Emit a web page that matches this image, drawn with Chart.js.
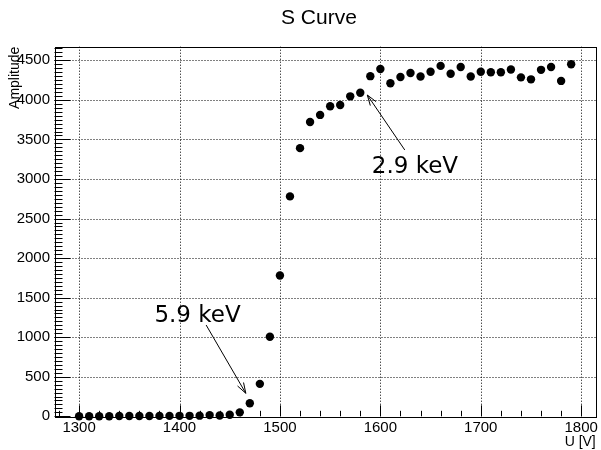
<!DOCTYPE html>
<html>
<head>
<meta charset="utf-8">
<title>S Curve</title>
<script src="https://cdn.jsdelivr.net/npm/chart.js@4/dist/chart.umd.min.js"></script>
<style>
  body { margin: 0; background: #fff; }
</style>
</head>
<body>
<canvas id="sCurve" width="601" height="450"></canvas>
<script>
// U [V]
const voltages = [1300, 1310, 1320, 1330, 1340, 1350, 1360, 1370, 1380, 1390,
                  1400, 1410, 1420, 1430, 1440, 1450, 1460, 1470, 1480, 1490,
                  1500, 1510, 1520, 1530, 1540, 1550, 1560, 1570, 1580, 1590,
                  1600, 1610, 1620, 1630, 1640, 1650, 1660, 1670, 1680, 1690,
                  1700, 1710, 1720, 1730, 1740, 1750, 1760, 1770, 1780, 1790];
// Amplitude
const amplitudes = [0, 0, 0, 0, 3, 3, 4, 4, 5, 5,
                    6, 6, 8, 15, 10, 20, 50, 165, 410, 1005,
                    1780, 2780, 3390, 3720, 3810, 3920, 3935, 4045, 4090, 4300,
                    4390, 4210, 4290, 4340, 4295, 4355, 4430, 4330, 4415, 4295,
                    4355, 4350, 4350, 4385, 4285, 4260, 4380, 4415, 4240, 4450];

const xTicks = [1300, 1400, 1500, 1600, 1700, 1800];
const yTicks = [0, 500, 1000, 1500, 2000, 2500, 3000, 3500, 4000, 4500];
const xRange = [1275.5, 1814.5];
const yRange = [0, 4672.5];

// arrows + labels, in data coordinates
const notes = [
    { text: '5.9 keV', at: [1375, 1196], from: [1426.5, 1154], to: [1466, 291] },
    { text: '2.9 keV', at: [1591.5, 3080], from: [1624.3, 3367], to: [1587, 4062] }
];

const tickFont = { family: '"Liberation Sans", Arial, sans-serif', size: 15 };

function drawArrow(ctx, x1, y1, x2, y2) {
    const ang = Math.atan2(y2 - y1, x2 - x1);
    const head = 11, spread = 0.32;
    ctx.beginPath();
    ctx.moveTo(x1, y1);
    ctx.lineTo(x2, y2);
    ctx.moveTo(x2 - head * Math.cos(ang - spread), y2 - head * Math.sin(ang - spread));
    ctx.lineTo(x2, y2);
    ctx.lineTo(x2 - head * Math.cos(ang + spread), y2 - head * Math.sin(ang + spread));
    ctx.stroke();
}

// ROOT style frame: dotted grid, inward ticks, titles, arrows
const rootFrame = {
    id: 'rootFrame',
    beforeDatasetsDraw(chart) {
        const { ctx, chartArea: a, scales: { x, y } } = chart;
        ctx.save();
        ctx.strokeStyle = '#000';
        ctx.lineWidth = 1;

        ctx.setLineDash([1, 2]);
        ctx.beginPath();
        xTicks.forEach(v => {
            const px = Math.round(x.getPixelForValue(v)) + 0.5;
            ctx.moveTo(px, a.top);
            ctx.lineTo(px, a.bottom);
        });
        yTicks.forEach(v => {
            if (v === 0) return;
            const py = Math.round(y.getPixelForValue(v)) + 0.5;
            ctx.moveTo(a.left, py);
            ctx.lineTo(a.right, py);
        });
        ctx.stroke();
        ctx.setLineDash([]);

        ctx.beginPath();
        for (let v = 1280; v <= xRange[1]; v += 20) {
            const px = Math.round(x.getPixelForValue(v)) + 0.5;
            const len = v % 100 === 0 ? 11 : 5.5;
            ctx.moveTo(px, a.bottom);
            ctx.lineTo(px, a.bottom - len);
        }
        for (let v = 0; v <= yRange[1]; v += 50) {
            const py = Math.round(y.getPixelForValue(v)) + 0.5;
            const len = v % 500 === 0 ? 16 : 8;
            ctx.moveTo(a.left, py);
            ctx.lineTo(a.left + len, py);
        }
        ctx.stroke();

        ctx.strokeRect(Math.round(a.left) + 0.5, Math.round(a.top) + 0.5,
                       Math.round(a.right - a.left), Math.round(a.bottom - a.top));
        ctx.restore();
    },
    afterDraw(chart) {
        const { ctx, chartArea: a, scales: { x, y } } = chart;
        ctx.save();
        ctx.fillStyle = '#000';
        ctx.strokeStyle = '#000';

        ctx.font = '21px "Liberation Sans", Arial, sans-serif';
        ctx.textAlign = 'left';
        ctx.textBaseline = 'alphabetic';
        ctx.fillText('S Curve', 281, 24);

        ctx.font = '14px "Liberation Sans", Arial, sans-serif';
        ctx.textAlign = 'right';
        ctx.fillText('U [V]', a.right, 446);

        ctx.save();
        ctx.translate(19, a.top);
        ctx.rotate(-Math.PI / 2);
        ctx.textAlign = 'right';
        ctx.fillText('Amplitude', 0, 0);
        ctx.restore();

        ctx.lineWidth = 1;
        ctx.font = '23px "DejaVu Sans", sans-serif';
        ctx.textAlign = 'left';
        notes.forEach(n => {
            ctx.fillText(n.text, x.getPixelForValue(n.at[0]), y.getPixelForValue(n.at[1]));
            drawArrow(ctx,
                x.getPixelForValue(n.from[0]), y.getPixelForValue(n.from[1]),
                x.getPixelForValue(n.to[0]), y.getPixelForValue(n.to[1]));
        });
        ctx.restore();
    }
};

const ctx = document.getElementById('sCurve').getContext('2d');
new Chart(ctx, {
    type: 'scatter',
    data: {
        datasets: [{
            label: 'S Curve',
            data: voltages.map((v, i) => ({ x: v, y: amplitudes[i] })),
            backgroundColor: '#000',
            borderWidth: 0,
            pointRadius: 4.2,
            pointHoverRadius: 4.2,
            clip: false
        }]
    },
    options: {
        responsive: false,
        devicePixelRatio: 1,
        animation: false,
        layout: { padding: { top: 46.7, right: 3.3, left: 0, bottom: 0 } },
        plugins: {
            legend: { display: false },
            title: { display: false },
            tooltip: { enabled: false }
        },
        scales: {
            x: {
                type: 'linear',
                min: xRange[0],
                max: xRange[1],
                afterBuildTicks: s => { s.ticks = xTicks.map(v => ({ value: v })); },
                afterFit: s => { s.height = 33.7; },
                grid: { display: false, drawTicks: false },
                border: { display: false },
                ticks: { color: '#000', font: tickFont, padding: 3, maxRotation: 0, autoSkip: false,
                         callback: v => String(v) }
            },
            y: {
                type: 'linear',
                min: yRange[0],
                max: yRange[1],
                afterBuildTicks: s => { s.ticks = yTicks.map(v => ({ value: v })); },
                afterFit: s => { s.width = 54.5; },
                grid: { display: false, drawTicks: false },
                border: { display: false },
                ticks: { color: '#000', font: tickFont, padding: 4.5, autoSkip: false,
                         callback: v => String(v) }
            }
        }
    },
    plugins: [rootFrame]
});
</script>
</body>
</html>
